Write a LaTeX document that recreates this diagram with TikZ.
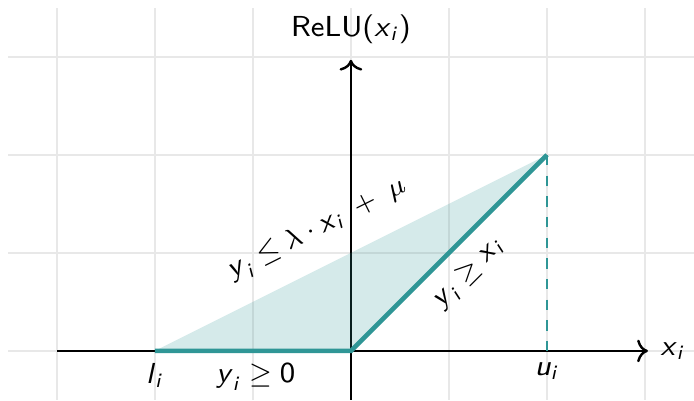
\documentclass[tikz,border=0pt]{standalone}
\usepackage{amsmath}
\usetikzlibrary{arrows.meta}
\definecolor{reluteal}{RGB}{47,150,150}
\newcommand{\sv}[1]{\textsf{\textit{#1}}}
\tikzset{
  gridline/.style={draw=gray!18, line width=0.5pt},
  axis/.style={line width=0.7pt, ->},
  relu/.style={draw=reluteal, line width=1.3pt},
  region/.style={fill=reluteal, fill opacity=0.2},
  guide/.style={draw=reluteal, dashed, line width=0.35pt},
  lbl/.style={font=\sffamily\fontsize{8.4}{10}\selectfont}
}
\begin{document}
\begin{tikzpicture}[x=1cm,y=1cm]
\useasboundingbox (-3.58,-0.51) rectangle (3.5,3.58);
\draw[gridline] (-3.5,-0.5) grid (3.5,3.5);
% axes
\coordinate (xs) at (-3,0);
\coordinate (xe) at (3.03,0);
\coordinate (ys) at (0,-0.5);
\coordinate (ye) at (0,2.97);
\draw[axis] (xs) -- (xe) node[lbl, right] (xl) {$\sv{x}_{\sv{i}}$};
\draw[axis] (ys) -- (ye) node[lbl, above=1pt] (yl) {ReLU($\sv{x}_{\sv{i}}$)};
% points
\coordinate (L) at (-2,0);
\coordinate (O) at (0,0);
\coordinate (U) at (2,2);
\coordinate (Ub) at (2,0);
\fill[region] (L) -- (U) -- (O) -- cycle;
\draw[guide] (U) -- (Ub);
\draw[relu] (L) -- (O) -- (U);
\path (L) -- (U) node[lbl, pos=0.455, above=3pt, sloped] (up) {$\sv{y}_{\sv{i}} \le \lambda \cdot \sv{x}_{\sv{i}} \;+\; \mu$};
\path (O) -- (U) node[lbl, midway, below=1pt, sloped] (lo) {$\sv{y}_{\sv{i}} \ge \sv{x}_{\sv{i}}$};
\node[lbl, below] (ll) at (L) {$\sv{l}_{\sv{i}}$};
\node[lbl, below] (ul) at (Ub) {$\sv{u}_{\sv{i}}$};
\node[lbl, below] (zl) at (-0.97,0) {$\sv{y}_{\sv{i}} \ge \textsf{0}$};
\end{tikzpicture}
\end{document}
